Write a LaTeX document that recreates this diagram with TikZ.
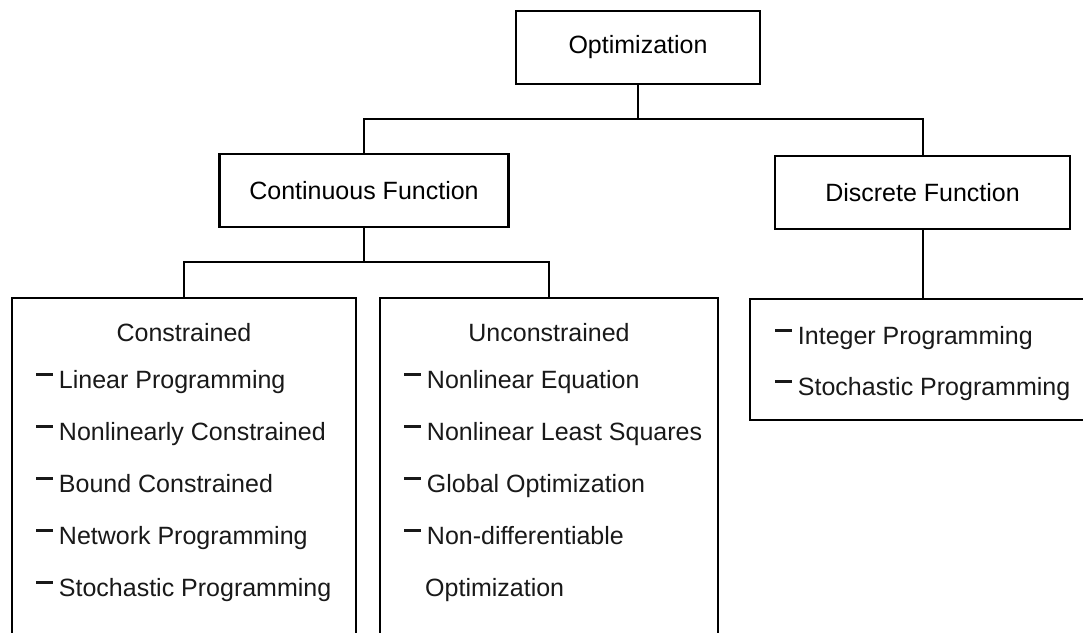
\documentclass[tikz,border=0pt]{standalone}
\usepackage{fontspec}
\setmainfont{Liberation Sans}
\newcommand{\itemdash}{\rule[0.47em]{0.66em}{0.12em}\hspace{0.25em}}
\begin{document}
\begin{tikzpicture}[x=1pt,y=-1pt,
  box/.style={draw=black, line width=2.3pt, inner sep=0pt, font=\fontsize{25}{30}\selectfont},
  wire/.style={draw=black, line width=2pt},
  txt/.style={anchor=base west, inner sep=0pt, text=black!90, font=\fontsize{25}{30}\selectfont},
  ttl/.style={anchor=base, inner sep=0pt, text=black!90, font=\fontsize{25}{30}\selectfont}]
\useasboundingbox (0,0) rectangle (1083,632);
\clip (0,0) rectangle (1083,632);
\fill[white] (0,0) rectangle (1083,632);

\node[box, minimum width=244pt, minimum height=73pt] (opt) at (638,47.5) {Optimization};
\node[box, minimum width=289pt, minimum height=73pt] (cont) at (364,190.5) {Continuous Function};
\node[box, minimum width=295pt, minimum height=73pt] (disc) at (922.5,192.5) {Discrete Function};
\node[box, minimum width=344pt, minimum height=402pt] (cons) at (184,499) {};
\node[box, minimum width=338pt, minimum height=402pt] (uncons) at (549,499) {};
\node[box, minimum width=360pt, minimum height=121pt] (dlist) at (930,359.5) {};

\coordinate (j1) at (638,119);
\coordinate (j2) at (364,262);
\draw[wire] (opt.south) -- (j1);
\draw[wire] (cont.north) -- (cont.north |- j1) -| (disc.north);
\draw[wire] (cont.south) -- (j2);
\draw[wire] (cons.north) -- (cons.north |- j2) -| (uncons.north);
\draw[wire] (disc.south) -- (disc.south |- dlist.north);

% Constrained
\node[ttl] (tc) at (184,341) {Constrained};
\node[txt] (c1) at (36,388) {\itemdash Linear Programming};
\node[txt] (c2) at (36,440) {\itemdash Nonlinearly Constrained};
\node[txt] (c3) at (36,492) {\itemdash Bound Constrained};
\node[txt] (c4) at (36,544) {\itemdash Network Programming};
\node[txt] (c5) at (36,596) {\itemdash Stochastic Programming};

% Unconstrained
\node[ttl] (tu) at (549,341) {Unconstrained};
\node[txt] (u1) at (404,388) {\itemdash Nonlinear Equation};
\node[txt] (u2) at (404,440) {\itemdash Nonlinear Least Squares};
\node[txt] (u3) at (404,492) {\itemdash Global Optimization};
\node[txt] (u4) at (404,544) {\itemdash Non-differentiable};
\node[txt] (u5) at (425,596) {Optimization};

% Discrete
\node[txt] (d1) at (775,344) {\itemdash Integer Programming};
\node[txt] (d2) at (775,395) {\itemdash Stochastic Programming};
\end{tikzpicture}
\end{document}
